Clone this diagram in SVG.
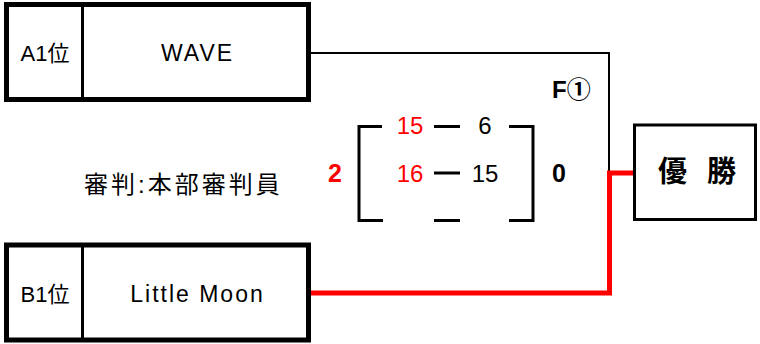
<svg xmlns="http://www.w3.org/2000/svg" width="760" height="344" viewBox="0 0 760 344">
<style>
.t{font-family:"Liberation Sans","Noto Sans CJK JP",sans-serif;fill:#000}
.box{fill:#fff;stroke:#000;stroke-width:5}
.div{stroke:#000;stroke-width:3}
.team{font-size:23px;letter-spacing:2px;text-anchor:middle}
.rank{font-size:22px;text-anchor:middle}
.br{stroke:#000;stroke-width:3;fill:none}
.sc{font-size:24px;text-anchor:middle}
.red{fill:#ff0000}
</style>
<rect width="760" height="344" fill="#fff"/>
<g id="connectors">
<polyline points="311,53 609,53 609,172" fill="none" stroke="#000" stroke-width="2"/>
<polyline points="311,293 609.5,293 609.5,173 634,173" fill="none" stroke="#ff0000" stroke-width="5"/>
</g>
<g id="teamA">
<rect class="box" x="6.5" y="4.5" width="302" height="95"/>
<line class="div" x1="82.5" y1="6" x2="82.5" y2="98"/>
<text class="t rank" x="45" y="61">A1位</text>
<text class="t team" x="197.5" y="61">WAVE</text>
</g>
<g id="teamB">
<rect class="box" x="6.5" y="245" width="302" height="95"/>
<line class="div" x1="82.5" y1="247" x2="82.5" y2="338"/>
<text class="t rank" x="45" y="302">B1位</text>
<text class="t team" x="197.5" y="302" letter-spacing="1.5">Little Moon</text>
</g>
<g id="winner">
<rect x="634.5" y="125" width="121" height="94.5" fill="#fff" stroke="#000" stroke-width="3"/>
<text class="t" x="658" y="182" font-size="29" font-weight="bold">優</text>
<text class="t" x="707" y="182" font-size="29" font-weight="bold">勝</text>
</g>
<g id="match">
<text class="t" x="552" y="98" font-size="24" font-weight="bold">F①</text>
<polyline class="br" points="382,126.5 359,126.5 359,220.5 383,220.5"/>
<polyline class="br" points="509,126.5 533,126.5 533,220.5 509,220.5"/>
<line class="br" x1="434" y1="126.5" x2="460" y2="126.5"/>
<line class="br" x1="434" y1="173" x2="460" y2="173"/>
<line class="br" x1="434" y1="220.5" x2="460" y2="220.5"/>
<text class="t sc red" x="410" y="133.5">15</text>
<text class="t sc" x="485" y="133.5">6</text>
<text class="t sc red" x="410" y="182">16</text>
<text class="t sc" x="485" y="182">15</text>
<text class="t red" x="335" y="181.5" font-size="25" font-weight="bold" text-anchor="middle">2</text>
<text class="t" x="559" y="182" font-size="25" font-weight="bold" text-anchor="middle">0</text>
<text class="t" x="84" y="193" font-size="24" letter-spacing="3">審判:本部審判員</text>
</g>
</svg>
